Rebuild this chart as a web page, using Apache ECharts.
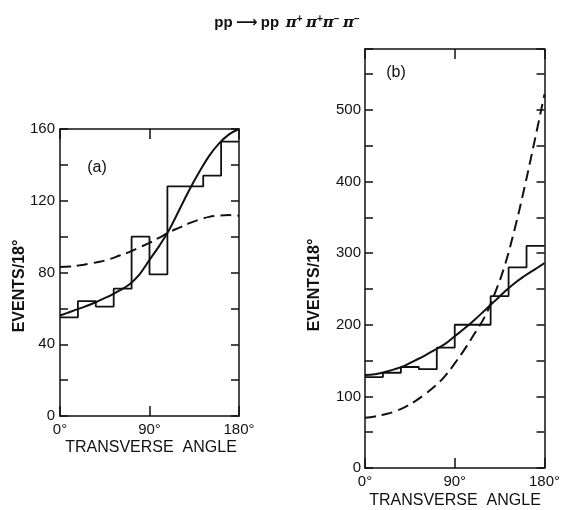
<!DOCTYPE html>
<html>
<head>
<meta charset="utf-8">
<title>pp → pp π+π+π−π− transverse angle</title>
<script src="https://cdn.jsdelivr.net/npm/echarts@6/dist/echarts.min.js"></script>
<style>
  html, body { margin: 0; padding: 0; background: #fff; }
  #chart { width: 563px; height: 510px; }
</style>
</head>
<body>
<div id="chart"></div>
<script>
// bins of 18 degrees (left edges), shared by both panels
const binEdges = [0, 18, 36, 54, 72, 90, 108, 126, 144, 162, 180]
// fit curves sampled every 10 degrees
const curveAngles = [0, 10, 20, 30, 40, 50, 60, 70, 80, 90, 100, 110, 120, 130, 140, 150, 160, 170, 180]

// panel (a)
const histA = [55, 64, 61, 71, 100, 79, 128, 128, 134, 153]
const solidA = [56, 58, 60, 62, 64.5, 67, 70, 73.5, 79, 87, 95, 104, 115, 126, 136, 145, 152, 157, 160]
const dashedA = [83, 83.3, 84, 85, 86, 87.5, 89.5, 91.5, 94, 96.5, 99.5, 102.5, 105, 107.5, 109.5, 111, 111.7, 112, 111.7]

// panel (b)
const histB = [127, 133, 141, 138, 168, 200, 200, 240, 280, 310]
const solidB = [130, 131, 134, 138, 143, 150, 157, 165, 173, 184, 195, 207, 220, 233, 246, 258, 268, 277, 286]
const dashedB = [70, 72, 75, 79, 85, 93, 103, 114, 128, 146, 166, 188, 211, 243, 282, 333, 392, 456, 522]

const xTicks = [0, 90, 180]

const FONT = 'Liberation Sans'
const INK = '#111'

// histogram as step line: one point per bin edge, last bin repeated at 180
const stepData = (vals) => binEdges.map((x, i) => [x, vals[Math.min(i, vals.length - 1)]])
const curveData = (vals) => curveAngles.map((x, i) => [x, vals[i]])

const axisLine = { onZero: false, lineStyle: { color: INK, width: 1.5 } }

const xAxisPair = (gridIndex) => ([
  {
    gridIndex, type: 'value', position: 'bottom',
    min: xTicks[0], max: xTicks[2], interval: xTicks[1],
    axisLine,
    axisTick: { inside: true, length: 10, lineStyle: { color: INK, width: 1.5 } },
    axisLabel: { formatter: v => v + '°', color: INK, fontSize: 15, fontFamily: FONT, margin: 6 },
    splitLine: { show: false }
  },
  {
    gridIndex, type: 'value', position: 'top',
    min: xTicks[0], max: xTicks[2], interval: xTicks[1],
    axisLine,
    axisTick: { inside: true, length: 10, lineStyle: { color: INK, width: 1.5 } },
    axisLabel: { show: false },
    splitLine: { show: false }
  }
])

const yAxisPair = (gridIndex, max, step, labelStep, margin) => ([
  {
    gridIndex, type: 'value', position: 'left', min: 0, max, interval: step,
    axisLine: { show: true, ...axisLine },
    axisTick: { show: true, inside: true, length: 8, lineStyle: { color: INK, width: 1.5 } },
    axisLabel: {
      formatter: v => (v % labelStep === 0 ? String(v) : ''),
      color: INK, fontSize: 15, fontFamily: FONT, margin
    },
    splitLine: { show: false }
  },
  {
    gridIndex, type: 'value', position: 'right', min: 0, max, interval: step,
    axisLine: { show: true, ...axisLine },
    axisTick: { show: true, inside: true, length: 8, lineStyle: { color: INK, width: 1.5 } },
    axisLabel: { show: false },
    splitLine: { show: false }
  }
])

const histSeries = (idx, vals) => ({
  type: 'line', xAxisIndex: idx, yAxisIndex: idx, step: 'end',
  data: stepData(vals), symbol: 'none', silent: true,
  lineStyle: { color: INK, width: 1.8 }
})
const solidSeries = (idx, vals) => ({
  type: 'line', xAxisIndex: idx, yAxisIndex: idx, smooth: 0.4,
  data: curveData(vals), symbol: 'none', silent: true,
  lineStyle: { color: INK, width: 2 }
})
const dashedSeries = (idx, vals) => ({
  type: 'line', xAxisIndex: idx, yAxisIndex: idx, smooth: 0.4,
  data: curveData(vals), symbol: 'none', silent: true,
  lineStyle: { color: INK, width: 2, type: [11, 6] }
})

const textEl = (text, x, y, opts = {}) => ({
  type: 'text', x, y, rotation: opts.rotation || 0, silent: true,
  style: {
    text, fill: INK, font: opts.font || `16px "${FONT}"`,
    textAlign: opts.align || 'center', textVerticalAlign: 'middle'
  }
})

const chart = echarts.init(document.getElementById('chart'), null, { renderer: 'canvas' })

// x axes: 0,1 -> panel a ; 2,3 -> panel b. y axes the same way.
const xAxes = [...xAxisPair(0), ...xAxisPair(1)]
const yAxes = [...yAxisPair(0, 160, 20, 40, 5), ...yAxisPair(1, 585, 50, 100, 4)]

chart.setOption({
  backgroundColor: '#fff',
  animation: false,
  grid: [
    { left: 60, right: 324, top: 129, bottom: 94 },
    { left: 365, right: 18, top: 49, bottom: 42 }
  ],
  xAxis: xAxes,
  yAxis: yAxes,
  series: [
    histSeries(0, histA), solidSeries(0, solidA), dashedSeries(0, dashedA),
    // panel b series use axis index 2 (bottom x / left y of the second grid)
    histSeries(2, histB), solidSeries(2, solidB), dashedSeries(2, dashedB)
  ],
  graphic: [
    {
      type: 'text', x: 287, y: 23, silent: true,
      style: {
        text: '{p|pp} {a|⟶} {p|pp}  {pi|π}{s|+} {pi|π}{s|+}{pi|π}{s|−} {pi|π}{s|−}',
        textAlign: 'center', textVerticalAlign: 'middle',
        rich: {
          p: { fontSize: 15, fontWeight: 'bold', fontFamily: FONT, fill: INK },
          a: { fontSize: 15, fontWeight: 'bold', fontFamily: 'DejaVu Sans', fill: INK },
          pi: { fontSize: 15, fontWeight: 'bold', fontStyle: 'italic', fontFamily: 'DejaVu Serif', fill: INK },
          s: { fontSize: 10, fontWeight: 'bold', fontFamily: FONT, fill: INK, verticalAlign: 'top', padding: [0, 0, 8, 0] }
        }
      }
    },
    textEl('(a)', 97, 168, { font: `16px "${FONT}"` }),
    textEl('(b)', 396, 73, { font: `16px "${FONT}"` }),
    textEl('EVENTS/18°', 20, 286, { rotation: Math.PI / 2, font: `bold 16px "${FONT}"` }),
    textEl('EVENTS/18°', 315, 285, { rotation: Math.PI / 2, font: `bold 16px "${FONT}"` }),
    textEl('TRANSVERSE  ANGLE', 151, 448, { font: `16px "${FONT}"` }),
    textEl('TRANSVERSE  ANGLE', 455, 501, { font: `16px "${FONT}"` })
  ]
})
</script>
</body>
</html>
